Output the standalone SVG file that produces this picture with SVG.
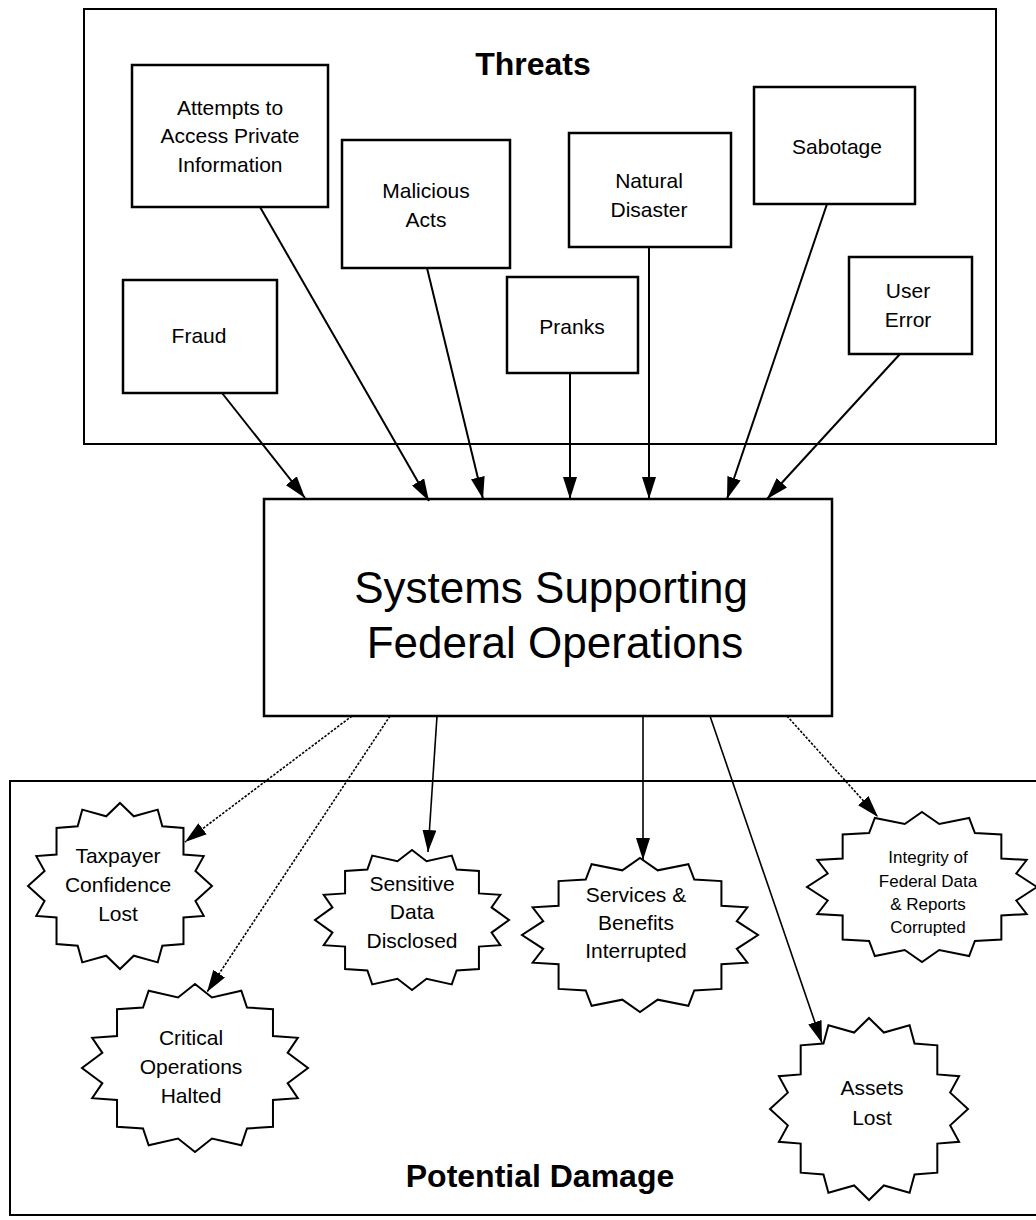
<svg xmlns="http://www.w3.org/2000/svg" width="1036" height="1220" viewBox="0 0 1036 1220">
  <style>
    text { font-family: "Liberation Sans", Arial, Helvetica, sans-serif; fill: #000; text-anchor: middle; }
    .lbl { font-size: 21px; }
    .small { font-size: 17px; }
    .title { font-size: 32px; font-weight: bold; }
    .big { font-size: 44px; }
    .frame { fill: #fff; stroke: #000; stroke-width: 2; }
    .box { fill: #fff; stroke: #000; stroke-width: 2.5; }
    .solid { fill: none; stroke: #000; stroke-width: 2; marker-end: url(#head); }
    .thin { fill: none; stroke: #000; stroke-width: 1.6; marker-end: url(#head); }
    .dotted { fill: none; stroke: #000; stroke-width: 1.6; stroke-dasharray: 2.5 1.5; marker-end: url(#head); }
  </style>
  <defs>
    <marker id="head" viewBox="0 0 22 14" refX="22" refY="7" markerWidth="22" markerHeight="14" markerUnits="userSpaceOnUse" orient="auto">
      <path d="M0,0 L22,7 L0,14 Z" fill="#000"/>
    </marker>
    <!-- boxy 16-point burst, half-size 100, scaled per node -->
    <path id="burst" fill="#fff" stroke="#000" stroke-width="2" vector-effect="non-scaling-stroke" stroke-linejoin="miter"
      d="M0,-100 L15,-84 L41,-92 L46,-72 L69,-70 L69,-38 L91,-36 L82,-18 L100,0 L82,18 L91,36 L69,38 L69,70 L46,72 L41,92 L15,84 L0,100 L-15,84 L-41,92 L-46,72 L-69,70 L-69,38 L-91,36 L-82,18 L-100,0 L-82,-18 L-91,-36 L-69,-38 L-69,-70 L-46,-72 L-41,-92 L-15,-84 Z"/>
  </defs>

  <rect width="1036" height="1220" fill="#fff"/>

  <!-- Threats panel -->
  <g id="threats-panel">
    <rect class="frame" x="84" y="9" width="912" height="435"/>
    <text class="title" x="533" y="75">Threats</text>
  </g>

  <!-- Potential damage panel -->
  <g id="damage-panel">
    <rect class="frame" x="10" y="781" width="1040" height="434"/>
    <text class="title" x="540" y="1187">Potential Damage</text>
  </g>

  <!-- Threat sources -->
  <g id="attempts">
    <rect class="box" x="132" y="65" width="196" height="142"/>
    <text class="lbl" x="230" y="115">Attempts to</text>
    <text class="lbl" x="230" y="143">Access Private</text>
    <text class="lbl" x="230" y="172">Information</text>
  </g>
  <g id="malicious">
    <rect class="box" x="342" y="140" width="168" height="128"/>
    <text class="lbl" x="426" y="198">Malicious</text>
    <text class="lbl" x="426" y="227">Acts</text>
  </g>
  <g id="natural">
    <rect class="box" x="569" y="133" width="162" height="114"/>
    <text class="lbl" x="649" y="188">Natural</text>
    <text class="lbl" x="649" y="217">Disaster</text>
  </g>
  <g id="sabotage">
    <rect class="box" x="754" y="87" width="161" height="117"/>
    <text class="lbl" x="837" y="154">Sabotage</text>
  </g>
  <g id="fraud">
    <rect class="box" x="123" y="280" width="154" height="113"/>
    <text class="lbl" x="199" y="343">Fraud</text>
  </g>
  <g id="pranks">
    <rect class="box" x="507" y="277" width="131" height="96"/>
    <text class="lbl" x="572" y="334">Pranks</text>
  </g>
  <g id="user-error">
    <rect class="box" x="849" y="257" width="123" height="97"/>
    <text class="lbl" x="908" y="298">User</text>
    <text class="lbl" x="908" y="327">Error</text>
  </g>

  <!-- Central system -->
  <g id="systems">
    <rect class="box" x="264" y="499" width="568" height="217"/>
    <text class="big" x="551" y="603">Systems Supporting</text>
    <text class="big" x="555" y="658">Federal Operations</text>
  </g>

  <!-- Damage outcomes -->
  <g id="taxpayer">
    <use href="#burst" transform="translate(120,886) scale(0.92,0.83)"/>
    <text class="lbl" x="118" y="863">Taxpayer</text>
    <text class="lbl" x="118" y="892">Confidence</text>
    <text class="lbl" x="118" y="921">Lost</text>
  </g>
  <g id="critical">
    <use href="#burst" transform="translate(195,1068) scale(1.13,0.84)"/>
    <text class="lbl" x="191" y="1045">Critical</text>
    <text class="lbl" x="191" y="1074">Operations</text>
    <text class="lbl" x="191" y="1103">Halted</text>
  </g>
  <g id="sensitive">
    <use href="#burst" transform="translate(412,920) scale(0.97,0.70)"/>
    <text class="lbl" x="412" y="891">Sensitive</text>
    <text class="lbl" x="412" y="919">Data</text>
    <text class="lbl" x="412" y="948">Disclosed</text>
  </g>
  <g id="services">
    <use href="#burst" transform="translate(640,935) scale(1.18,0.77)"/>
    <text class="lbl" x="636" y="902">Services &amp;</text>
    <text class="lbl" x="636" y="930">Benefits</text>
    <text class="lbl" x="636" y="958">Interrupted</text>
  </g>
  <g id="assets">
    <use href="#burst" transform="translate(869,1109) scale(0.99,0.91)"/>
    <text class="lbl" x="872" y="1095">Assets</text>
    <text class="lbl" x="872" y="1125">Lost</text>
  </g>
  <g id="integrity">
    <use href="#burst" transform="translate(922,887) scale(1.15,0.75)"/>
    <text class="small" x="928" y="863">Integrity of</text>
    <text class="small" x="928" y="887">Federal Data</text>
    <text class="small" x="928" y="910">&amp; Reports</text>
    <text class="small" x="928" y="933">Corrupted</text>
  </g>

  <!-- Connectors -->
  <g id="connectors">
    <path class="solid" d="M222,393 L305,498"/>
    <path class="solid" d="M260,207 L429,501"/>
    <path class="solid" d="M427,268 L483,499"/>
    <path class="solid" d="M570,373 L570,499"/>
    <path class="solid" d="M649,247 L649,499"/>
    <path class="solid" d="M827,204 L727,499"/>
    <path class="solid" d="M900,354 L767,499"/>

    <path class="dotted" d="M352,716 L185,842"/>
    <path class="dotted" d="M390,716 L207,992"/>
    <path class="thin" d="M437,716 L428,852"/>
    <path class="thin" d="M643,716 L643,860"/>
    <path class="thin" d="M710,716 L822,1043"/>
    <path class="dotted" d="M787,716 L878,817"/>
  </g>
</svg>
